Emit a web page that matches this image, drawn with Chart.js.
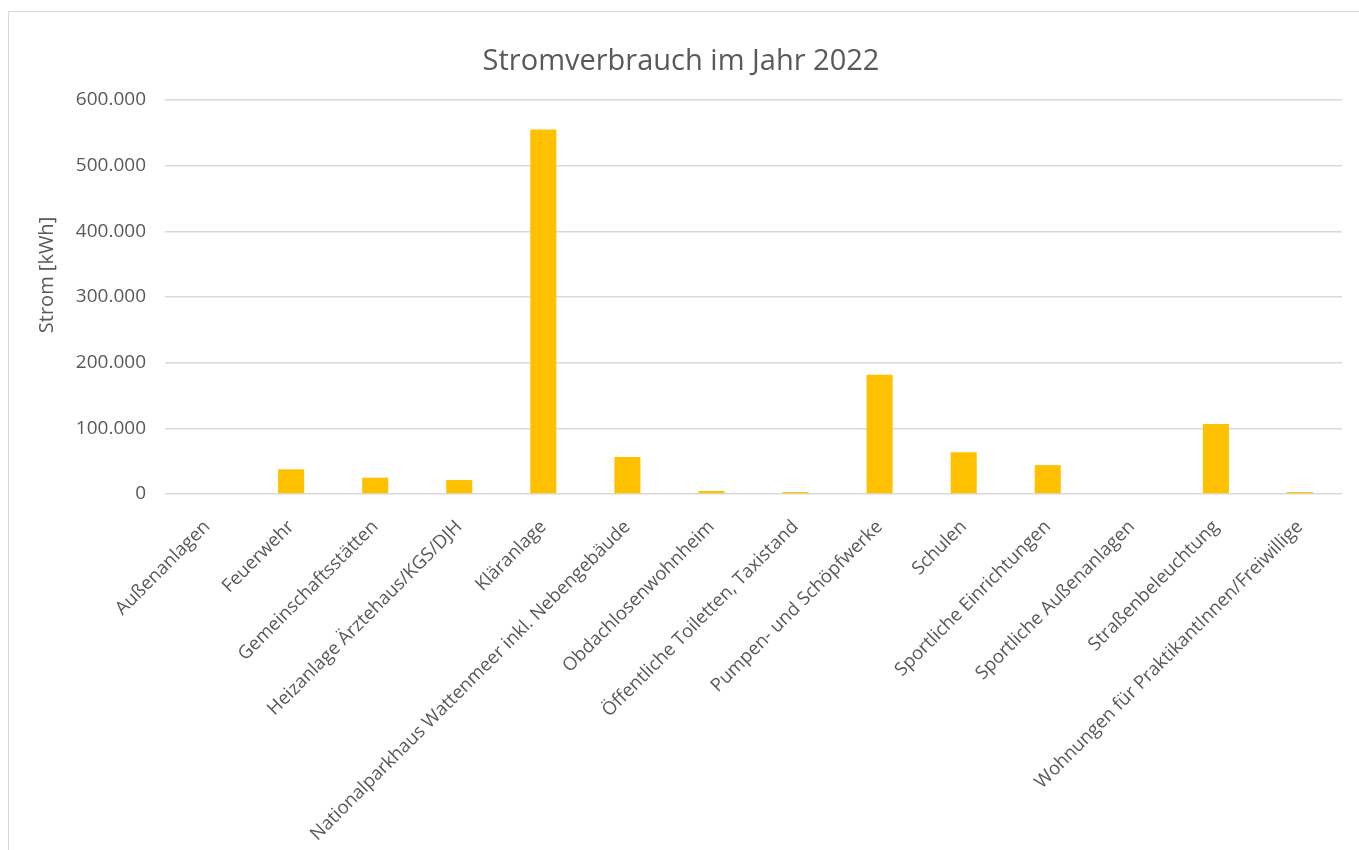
<!DOCTYPE html>
<html lang="de">
<head>
<meta charset="utf-8">
<title>Stromverbrauch im Jahr 2022</title>
<script src="https://cdn.jsdelivr.net/npm/chart.js@4/dist/chart.umd.min.js"></script>
<style>
    body { margin: 0; background: #fff; overflow: hidden; }
    #wrap { position: relative; width: 1359px; height: 850px; }
    #frame {
        position: absolute; left: 8px; top: 11px; width: 1400px; height: 900px;
        border: 1px solid #d9d9d9; box-sizing: border-box;
    }
    #stromChart { position: absolute; left: 0; top: 0; }
</style>
</head>
<body>
<div id="wrap">
    <div id="frame"></div>
    <canvas id="stromChart" width="1359" height="850"></canvas>
</div>
<script>
// Verbrauch je Liegenschaft in kWh
var kategorien = [
    'Außenanlagen',
    'Feuerwehr',
    'Gemeinschaftsstätten',
    'Heizanlage Ärztehaus/KGS/DJH',
    'Kläranlage',
    'Nationalparkhaus Wattenmeer inkl. Nebengebäude',
    'Obdachlosenwohnheim',
    'Öffentliche Toiletten, Taxistand',
    'Pumpen- und Schöpfwerke',
    'Schulen',
    'Sportliche Einrichtungen',
    'Sportliche Außenanlagen',
    'Straßenbeleuchtung',
    'Wohnungen für PraktikantInnen/Freiwillige'
];
var stromKwh = [0, 37600, 24800, 21300, 555000, 56300, 4500, 3000, 181600, 63500, 44000, 0, 106500, 3000];
var yMax = 600000;
var yStep = 100000;
var titel = 'Stromverbrauch im Jahr 2022';
var yTitel = 'Strom [kWh]';

var textFarbe = '#595959';
var schrift = "'Open Sans', 'Noto Sans', sans-serif";

function tausender(v) {
    return String(v).replace(/\B(?=(\d{3})+(?!\d))/g, '.');
}

// Diagrammtitel und Achsentitel selbst zeichnen (Lage wie in Excel)
var beschriftung = {
    id: 'beschriftung',
    afterDraw: function (chart) {
        var c = chart.ctx;
        c.save();
        c.fillStyle = textFarbe;
        c.textAlign = 'center';
        c.textBaseline = 'middle';

        c.font = '29px ' + schrift;
        c.fillText(titel, 681, 62);

        c.translate(47, 275);
        c.rotate(-Math.PI / 2);
        c.font = '20px ' + schrift;
        c.fillText(yTitel, 0, 0);
        c.restore();
    }
};

var config = {
    type: 'bar',
    data: {
        labels: kategorien,
        datasets: [{
            label: yTitel,
            data: stromKwh,
            backgroundColor: '#ffc000',
            borderWidth: 0,
            categoryPercentage: 1,
            barPercentage: 0.31
        }]
    },
    options: {
        responsive: false,
        animation: false,
        layout: { padding: { left: 0, right: 17, top: 100, bottom: 0 } },
        plugins: {
            legend: { display: false },
            tooltip: { enabled: false },
            title: { display: false }
        },
        scales: {
            x: {
                grid: { display: false },
                border: { display: false },
                ticks: {
                    autoSkip: false,
                    minRotation: 45,
                    maxRotation: 45,
                    padding: 14,
                    color: textFarbe,
                    font: { family: schrift, size: 18.5 }
                },
                afterFit: function (scale) { scale.height = 356; }
            },
            y: {
                min: 0,
                max: yMax,
                border: { display: false },
                grid: { color: '#d9d9d9', lineWidth: 1.5, drawTicks: false },
                ticks: {
                    stepSize: yStep,
                    padding: 19,
                    color: textFarbe,
                    font: { family: schrift, size: 19 },
                    callback: function (v) { return tausender(v); }
                },
                afterFit: function (scale) { scale.width = 165; }
            }
        }
    },
    plugins: [beschriftung]
};

var ctx = document.getElementById('stromChart').getContext('2d');
var chart = new Chart(ctx, config);
</script>
</body>
</html>
